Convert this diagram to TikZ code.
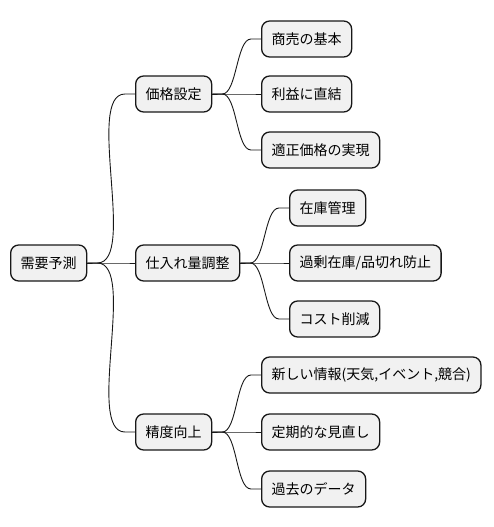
\documentclass[tikz,border=0pt]{standalone}
\usepackage{fontspec}
\setmainfont{Noto Sans CJK JP}
\usetikzlibrary{calc}

\definecolor{boxfill}{RGB}{241,241,241}
\definecolor{boxline}{RGB}{24,24,24}

\tikzset{
	topic/.style={draw=boxline, fill=boxfill, line width=1.3pt, rounded corners=8pt, anchor=west, inner xsep=10pt, minimum height=36pt, font=\fontsize{14}{16}\selectfont},
	branch/.style={draw=boxline, line width=0.9pt}
}
\newcommand{\mmlink}[2]{\draw[branch] (#1.east) -- ++(10,0) to[out=0,in=180,looseness=0.6] ($(#2.west)+(-10,0)$) -- (#2.west);}

\begin{document}
\begin{tikzpicture}[x=1pt,y=-1pt]
	\useasboundingbox (0,0) rectangle (494,527);
	\node[topic] (demand) at (10,263) {需要予測};
	\node[topic] (price) at (135,94) {価格設定};
	\node[topic] (stock) at (135,263) {仕入れ量調整};
	\node[topic] (accuracy) at (135,432) {精度向上};
	\node[topic] (basics) at (261,39) {商売の基本};
	\node[topic] (profit) at (261,94) {利益に直結};
	\node[topic] (fair) at (261,150) {適正価格の実現};
	\node[topic] (inventory) at (289,208) {在庫管理};
	\node[topic] (shortage) at (289,263) {過剰在庫/品切れ防止};
	\node[topic] (cost) at (289,319) {コスト削減};
	\node[topic] (newinfo) at (261,375) {新しい情報(天気,イベント,競合)};
	\node[topic] (review) at (261,432) {定期的な見直し};
	\node[topic] (past) at (261,489) {過去のデータ};
	\foreach \c in {price,stock,accuracy}
		{\mmlink{demand}{\c}}
	\foreach \c in {basics,profit,fair}
		{\mmlink{price}{\c}}
	\foreach \c in {inventory,shortage,cost}
		{\mmlink{stock}{\c}}
	\foreach \c in {newinfo,review,past}
		{\mmlink{accuracy}{\c}}
\end{tikzpicture}
\end{document}
